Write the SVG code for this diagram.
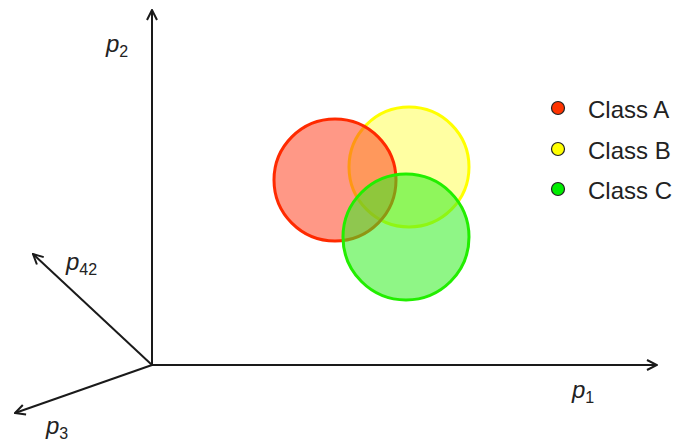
<svg xmlns="http://www.w3.org/2000/svg" width="673" height="443" viewBox="0 0 673 443">
<style>
.ax{stroke:#1a1a1a;stroke-width:2;fill:none;marker-end:url(#arr)}
.lbl{font-family:"Liberation Sans",Arial,sans-serif;font-style:italic;font-size:24px;fill:#222}
.sub{font-style:normal;font-size:16px}
.leg{font-family:"Liberation Sans",Arial,sans-serif;font-size:24px;fill:#222}
.dot{stroke:#222;stroke-width:1.2}
</style>
<defs>
<marker id="arr" viewBox="0 0 12 12" refX="11" refY="6" markerWidth="12" markerHeight="12" markerUnits="userSpaceOnUse" orient="auto">
<path d="M1,1 L11,6 L1,11" fill="none" stroke="#1a1a1a" stroke-width="2"/>
</marker>
</defs>
<rect width="673" height="443" fill="#fff"/>
<g id="connectors">
<line class="ax" x1="152" y1="365" x2="152" y2="10"/>
<line class="ax" x1="152" y1="365" x2="657" y2="365"/>
<line class="ax" x1="152" y1="365" x2="33" y2="254"/>
<line class="ax" x1="152" y1="365" x2="15" y2="413"/>
</g>
<g id="labels">
<text class="lbl" x="106" y="52">p<tspan class="sub" dy="5">2</tspan></text>
<text class="lbl" x="66" y="270">p<tspan class="sub" dy="5">42</tspan></text>
<text class="lbl" x="572" y="398">p<tspan class="sub" dy="5">1</tspan></text>
<text class="lbl" x="46" y="434">p<tspan class="sub" dy="5">3</tspan></text>
</g>
<g id="classB"><circle cx="409" cy="167" r="60" fill="#ffff55" fill-opacity="0.55" stroke="#ffff00" stroke-width="3"/></g>
<g id="classA"><circle cx="335" cy="180" r="61" fill="#ff4422" fill-opacity="0.55" stroke="#ff2a00" stroke-width="3"/></g>
<g id="classC"><circle cx="406" cy="237" r="63" fill="#33ee22" fill-opacity="0.55" stroke="#22ee00" stroke-width="3"/></g>
<g id="legend">
<circle class="dot" cx="558" cy="108" r="6.5" fill="#ff3300"/>
<text class="leg" x="588" y="118">Class A</text>
<circle class="dot" cx="558" cy="149" r="6.5" fill="#ffff00"/>
<text class="leg" x="588" y="159">Class B</text>
<circle class="dot" cx="558" cy="189" r="6.5" fill="#00ee00"/>
<text class="leg" x="588" y="199">Class C</text>
</g>
</svg>
